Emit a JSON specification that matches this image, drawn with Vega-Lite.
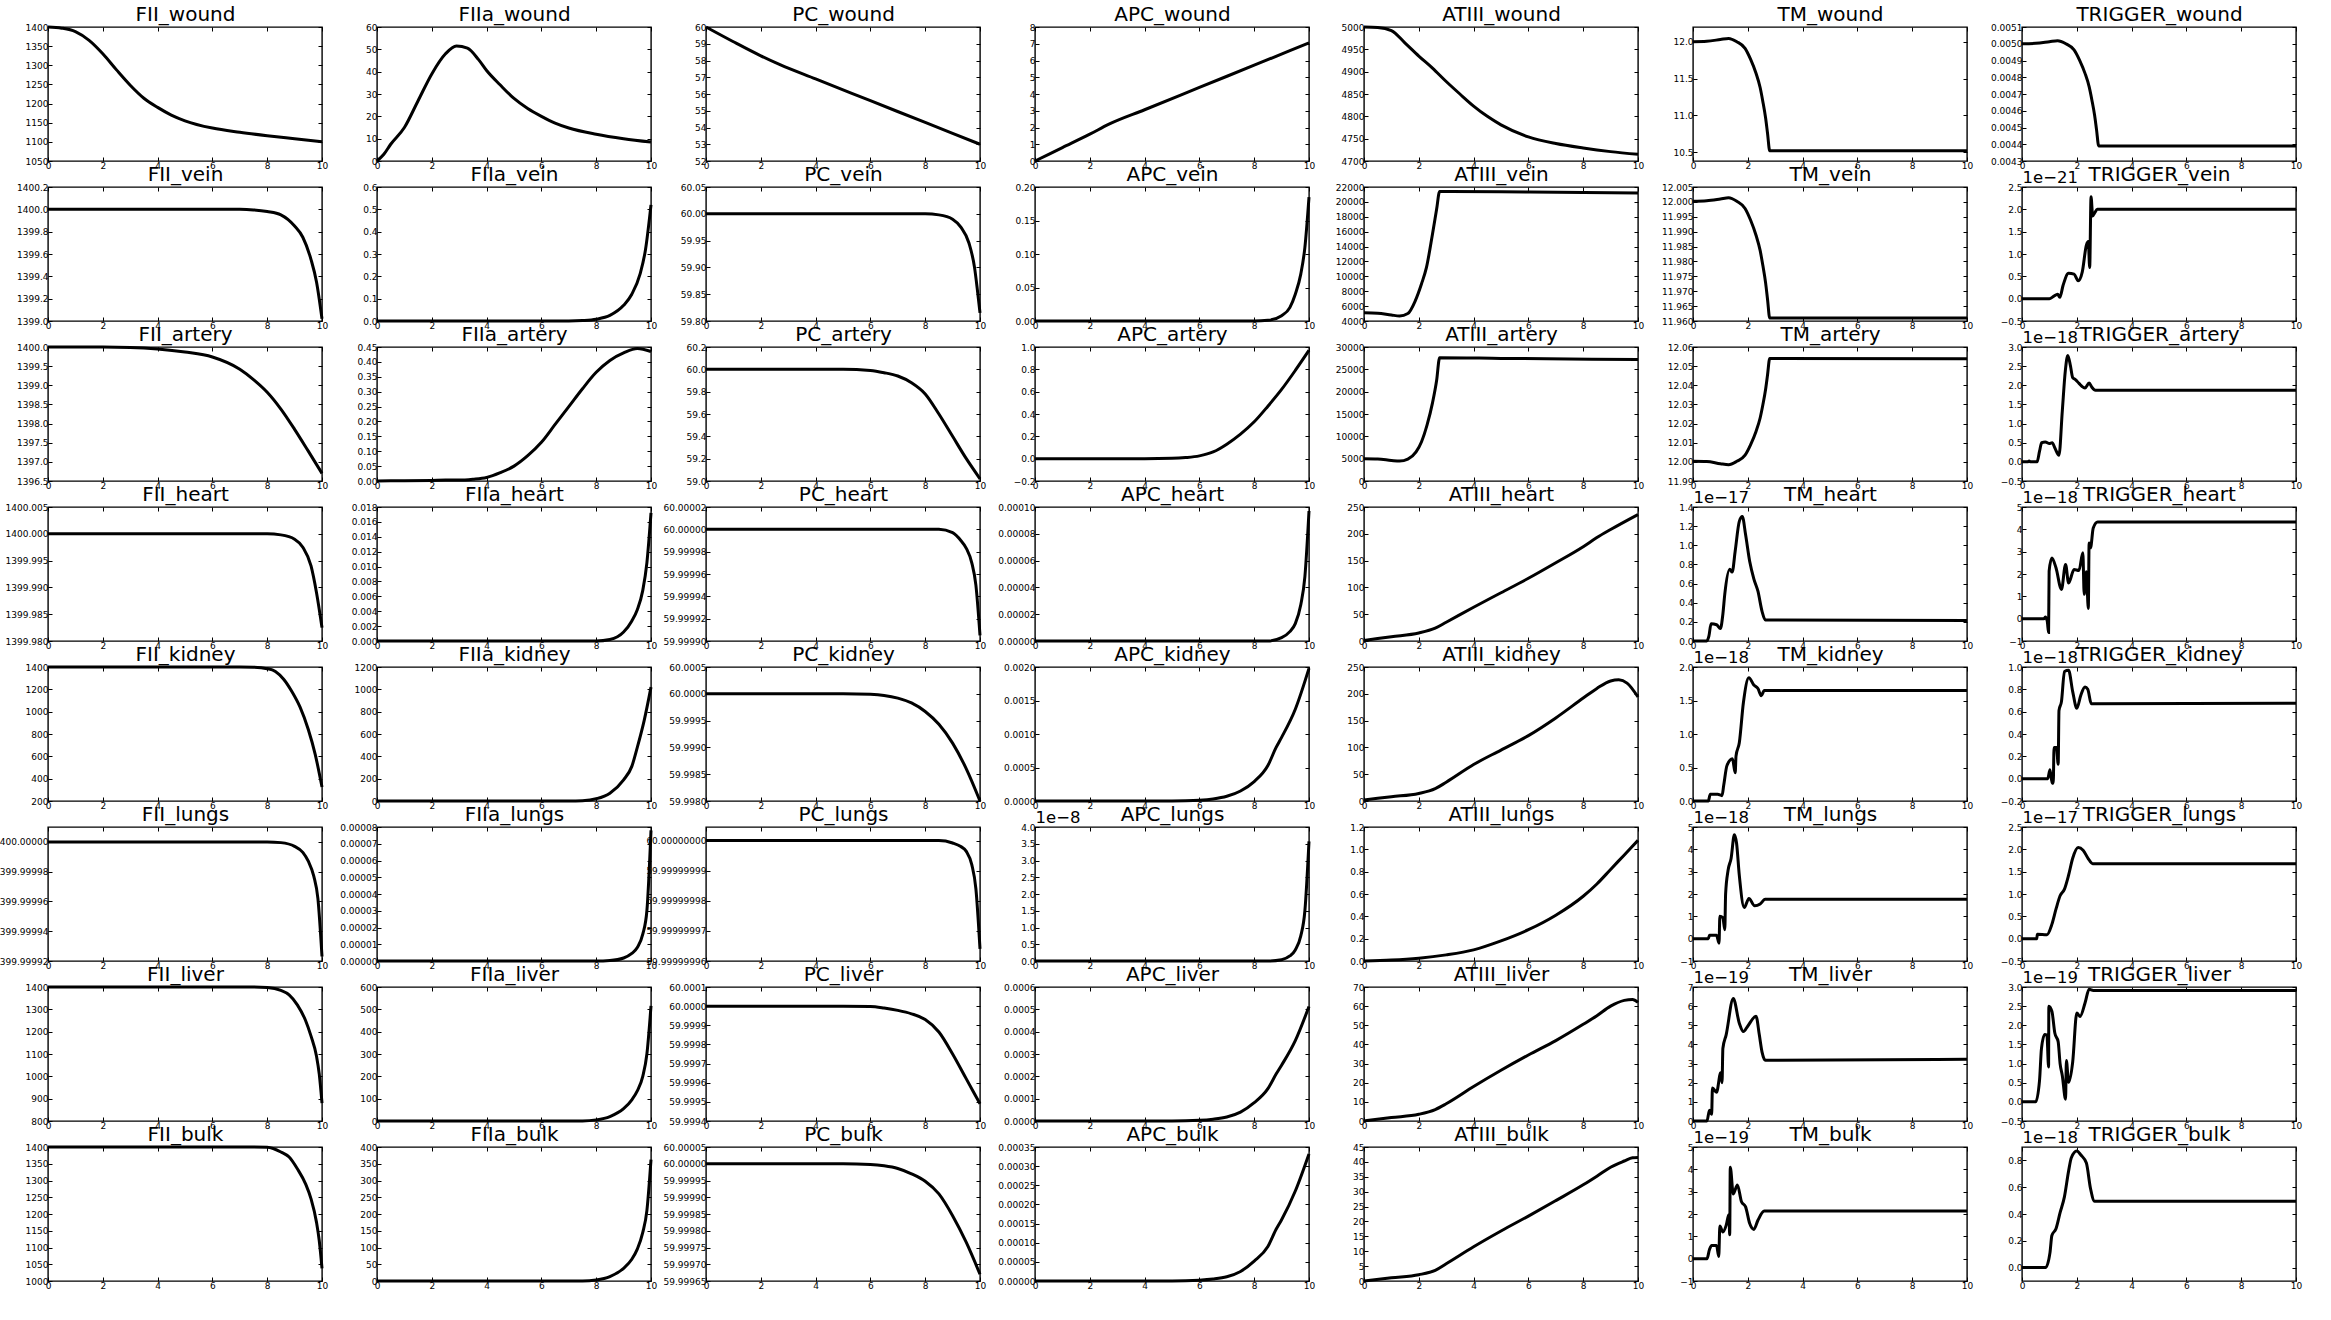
{
"$schema":"https://vega.github.io/schema/vega-lite/v6.json",
"background":"white",
"padding":{"left":-8,"top":3,"right":5,"bottom":5},
"columns":7,
"spacing":{"row":26,"column":55},
"bounds":"flush",
"concat":[
{"width":274,"height":134,"data":{"values":[{"t":0,"v":1400},{"t":0.5,"v":1397},{"t":1,"v":1388},{"t":1.5,"v":1365},{"t":2,"v":1330},{"t":2.5,"v":1288},{"t":3,"v":1248},{"t":3.5,"v":1214},{"t":4,"v":1190},{"t":4.5,"v":1170},{"t":5,"v":1155},{"t":6,"v":1136},{"t":7,"v":1125},{"t":8,"v":1116},{"t":9,"v":1108},{"t":10,"v":1100}]},
"layer":[{"mark":"line","encoding":{"x":{"field":"t","type":"quantitative","scale":{"domain":[0,10],"nice":false},"axis":{"values":[0,2,4,6,8,10],"format":"d","title":null}},"y":{"field":"v","type":"quantitative","scale":{"domain":[1050,1400],"nice":false,"zero":false},"axis":{"values":[1050,1100,1150,1200,1250,1300,1350,1400],"format":"d","title":null}}}},
{"mark":{"type":"line","opacity":0},"encoding":{"x":{"field":"t","type":"quantitative","axis":{"orient":"top","labels":false,"values":[0,2,4,6,8,10],"title":"FII_wound","titleX":137,"titleY":-7,"titleBaseline":"alphabetic","titleAlign":"center"}},"y":{"field":"v","type":"quantitative","axis":{"orient":"right","labels":false,"values":[1050,1100,1150,1200,1250,1300,1350,1400],"title":null}}}}],
"resolve":{"axis":{"x":"independent","y":"independent"}}},

{"width":274,"height":134,"data":{"values":[{"t":0,"v":0},{"t":0.25,"v":3},{"t":0.5,"v":7.5},{"t":1,"v":15},{"t":1.5,"v":27},{"t":2,"v":39},{"t":2.5,"v":48},{"t":2.9,"v":51.5},{"t":3.3,"v":50.5},{"t":3.7,"v":45.5},{"t":4,"v":40.5},{"t":4.5,"v":34},{"t":5,"v":28},{"t":5.5,"v":23.5},{"t":6,"v":20},{"t":6.5,"v":17},{"t":7,"v":14.8},{"t":8,"v":12},{"t":9,"v":10},{"t":10,"v":8.5}]},
"layer":[{"mark":"line","encoding":{"x":{"field":"t","type":"quantitative","scale":{"domain":[0,10],"nice":false},"axis":{"values":[0,2,4,6,8,10],"format":"d","title":null}},"y":{"field":"v","type":"quantitative","scale":{"domain":[0,60],"nice":false,"zero":false},"axis":{"values":[0,10,20,30,40,50,60],"format":"d","title":null}}}},
{"mark":{"type":"line","opacity":0},"encoding":{"x":{"field":"t","type":"quantitative","axis":{"orient":"top","labels":false,"values":[0,2,4,6,8,10],"title":"FIIa_wound","titleX":137,"titleY":-7,"titleBaseline":"alphabetic","titleAlign":"center"}},"y":{"field":"v","type":"quantitative","axis":{"orient":"right","labels":false,"values":[0,10,20,30,40,50,60],"title":null}}}}],
"resolve":{"axis":{"x":"independent","y":"independent"}}},

{"width":274,"height":134,"data":{"values":[{"t":0,"v":60},{"t":1,"v":59.12},{"t":2,"v":58.28},{"t":2.7,"v":57.75},{"t":4,"v":56.9},{"t":6,"v":55.6},{"t":8,"v":54.3},{"t":10,"v":53.0}]},
"layer":[{"mark":"line","encoding":{"x":{"field":"t","type":"quantitative","scale":{"domain":[0,10],"nice":false},"axis":{"values":[0,2,4,6,8,10],"format":"d","title":null}},"y":{"field":"v","type":"quantitative","scale":{"domain":[52,60],"nice":false,"zero":false},"axis":{"values":[52,53,54,55,56,57,58,59,60],"format":"d","title":null}}}},
{"mark":{"type":"line","opacity":0},"encoding":{"x":{"field":"t","type":"quantitative","axis":{"orient":"top","labels":false,"values":[0,2,4,6,8,10],"title":"PC_wound","titleX":137,"titleY":-7,"titleBaseline":"alphabetic","titleAlign":"center"}},"y":{"field":"v","type":"quantitative","axis":{"orient":"right","labels":false,"values":[52,53,54,55,56,57,58,59,60],"title":null}}}}],
"resolve":{"axis":{"x":"independent","y":"independent"}}},

{"width":274,"height":134,"data":{"values":[{"t":0,"v":0},{"t":1,"v":0.8},{"t":2,"v":1.6},{"t":2.7,"v":2.2},{"t":4,"v":3.06},{"t":6,"v":4.39},{"t":8,"v":5.72},{"t":10,"v":7.05}]},
"layer":[{"mark":"line","encoding":{"x":{"field":"t","type":"quantitative","scale":{"domain":[0,10],"nice":false},"axis":{"values":[0,2,4,6,8,10],"format":"d","title":null}},"y":{"field":"v","type":"quantitative","scale":{"domain":[0,8],"nice":false,"zero":false},"axis":{"values":[0,1,2,3,4,5,6,7,8],"format":"d","title":null}}}},
{"mark":{"type":"line","opacity":0},"encoding":{"x":{"field":"t","type":"quantitative","axis":{"orient":"top","labels":false,"values":[0,2,4,6,8,10],"title":"APC_wound","titleX":137,"titleY":-7,"titleBaseline":"alphabetic","titleAlign":"center"}},"y":{"field":"v","type":"quantitative","axis":{"orient":"right","labels":false,"values":[0,1,2,3,4,5,6,7,8],"title":null}}}}],
"resolve":{"axis":{"x":"independent","y":"independent"}}},

{"width":274,"height":134,"data":{"values":[{"t":0,"v":5000},{"t":0.5,"v":4999},{"t":1,"v":4992},{"t":1.5,"v":4964},{"t":2,"v":4935},{"t":2.5,"v":4908},{"t":3,"v":4878},{"t":3.5,"v":4850},{"t":4,"v":4823},{"t":4.5,"v":4800},{"t":5,"v":4781},{"t":6,"v":4754},{"t":7,"v":4739},{"t":8,"v":4729},{"t":9,"v":4721},{"t":10,"v":4715}]},
"layer":[{"mark":"line","encoding":{"x":{"field":"t","type":"quantitative","scale":{"domain":[0,10],"nice":false},"axis":{"values":[0,2,4,6,8,10],"format":"d","title":null}},"y":{"field":"v","type":"quantitative","scale":{"domain":[4700,5000],"nice":false,"zero":false},"axis":{"values":[4700,4750,4800,4850,4900,4950,5000],"format":"d","title":null}}}},
{"mark":{"type":"line","opacity":0},"encoding":{"x":{"field":"t","type":"quantitative","axis":{"orient":"top","labels":false,"values":[0,2,4,6,8,10],"title":"ATIII_wound","titleX":137,"titleY":-7,"titleBaseline":"alphabetic","titleAlign":"center"}},"y":{"field":"v","type":"quantitative","axis":{"orient":"right","labels":false,"values":[4700,4750,4800,4850,4900,4950,5000],"title":null}}}}],
"resolve":{"axis":{"x":"independent","y":"independent"}}},

{"width":274,"height":134,"data":{"values":[{"t":0,"v":12.0},{"t":0.5,"v":12.006},{"t":1,"v":12.03},{"t":1.3,"v":12.045},{"t":1.6,"v":12.0},{"t":1.9,"v":11.91},{"t":2.1,"v":11.763},{"t":2.3,"v":11.571},{"t":2.45,"v":11.378},{"t":2.55,"v":11.186},{"t":2.65,"v":10.964},{"t":2.72,"v":10.757},{"t":2.8,"v":10.52},{"t":10,"v":10.52}]},
"layer":[{"mark":"line","encoding":{"x":{"field":"t","type":"quantitative","scale":{"domain":[0,10],"nice":false},"axis":{"values":[0,2,4,6,8,10],"format":"d","title":null}},"y":{"field":"v","type":"quantitative","scale":{"domain":[10.38,12.2],"nice":false,"zero":false},"axis":{"values":[10.5,11,11.5,12],"format":".1f","title":null}}}},
{"mark":{"type":"line","opacity":0},"encoding":{"x":{"field":"t","type":"quantitative","axis":{"orient":"top","labels":false,"values":[0,2,4,6,8,10],"title":"TM_wound","titleX":137,"titleY":-7,"titleBaseline":"alphabetic","titleAlign":"center"}},"y":{"field":"v","type":"quantitative","axis":{"orient":"right","labels":false,"values":[10.5,11,11.5,12],"title":null}}}}],
"resolve":{"axis":{"x":"independent","y":"independent"}}},

{"width":274,"height":134,"data":{"values":[{"t":0,"v":0.005},{"t":0.5,"v":0.0050025},{"t":1,"v":0.0050122},{"t":1.3,"v":0.0050183},{"t":1.6,"v":0.005},{"t":1.9,"v":0.0049634},{"t":2.1,"v":0.0049024},{"t":2.3,"v":0.0048231},{"t":2.45,"v":0.0047438},{"t":2.55,"v":0.0046645},{"t":2.65,"v":0.004573},{"t":2.72,"v":0.0044876},{"t":2.8,"v":0.00439},{"t":10,"v":0.00439}]},
"layer":[{"mark":"line","encoding":{"x":{"field":"t","type":"quantitative","scale":{"domain":[0,10],"nice":false},"axis":{"values":[0,2,4,6,8,10],"format":"d","title":null}},"y":{"field":"v","type":"quantitative","scale":{"domain":[0.0043,0.0051],"nice":false,"zero":false},"axis":{"values":[0.0043,0.0044,0.0045,0.0046,0.0047,0.0048,0.0049,0.005,0.0051],"format":".4f","title":null}}}},
{"mark":{"type":"line","opacity":0},"encoding":{"x":{"field":"t","type":"quantitative","axis":{"orient":"top","labels":false,"values":[0,2,4,6,8,10],"title":"TRIGGER_wound","titleX":137,"titleY":-7,"titleBaseline":"alphabetic","titleAlign":"center"}},"y":{"field":"v","type":"quantitative","axis":{"orient":"right","labels":false,"values":[0.0043,0.0044,0.0045,0.0046,0.0047,0.0048,0.0049,0.005,0.0051],"title":null}}}}],
"resolve":{"axis":{"x":"independent","y":"independent"}}},

{"width":274,"height":134,"data":{"values":[{"t":0,"v":1400},{"t":7,"v":1400},{"t":7.5,"v":1399.995},{"t":8,"v":1399.98},{"t":8.5,"v":1399.95},{"t":9,"v":1399.85},{"t":9.3,"v":1399.75},{"t":9.6,"v":1399.55},{"t":9.8,"v":1399.35},{"t":10,"v":1399.02}]},
"layer":[{"mark":"line","encoding":{"x":{"field":"t","type":"quantitative","scale":{"domain":[0,10],"nice":false},"axis":{"values":[0,2,4,6,8,10],"format":"d","title":null}},"y":{"field":"v","type":"quantitative","scale":{"domain":[1399,1400.2],"nice":false,"zero":false},"axis":{"values":[1399,1399.2,1399.4,1399.6,1399.8,1400,1400.2],"format":".1f","title":null}}}},
{"mark":{"type":"line","opacity":0},"encoding":{"x":{"field":"t","type":"quantitative","axis":{"orient":"top","labels":false,"values":[0,2,4,6,8,10],"title":"FII_vein","titleX":137,"titleY":-7,"titleBaseline":"alphabetic","titleAlign":"center"}},"y":{"field":"v","type":"quantitative","axis":{"orient":"right","labels":false,"values":[1399,1399.2,1399.4,1399.6,1399.8,1400,1400.2],"title":null}}}}],
"resolve":{"axis":{"x":"independent","y":"independent"}}},

{"width":274,"height":134,"data":{"values":[{"t":0,"v":0},{"t":7,"v":0},{"t":7.5,"v":0.002},{"t":8,"v":0.008},{"t":8.5,"v":0.025},{"t":9,"v":0.07},{"t":9.3,"v":0.12},{"t":9.6,"v":0.21},{"t":9.8,"v":0.32},{"t":10,"v":0.52}]},
"layer":[{"mark":"line","encoding":{"x":{"field":"t","type":"quantitative","scale":{"domain":[0,10],"nice":false},"axis":{"values":[0,2,4,6,8,10],"format":"d","title":null}},"y":{"field":"v","type":"quantitative","scale":{"domain":[0,0.6],"nice":false,"zero":false},"axis":{"values":[0,0.1,0.2,0.3,0.4,0.5,0.6],"format":".1f","title":null}}}},
{"mark":{"type":"line","opacity":0},"encoding":{"x":{"field":"t","type":"quantitative","axis":{"orient":"top","labels":false,"values":[0,2,4,6,8,10],"title":"FIIa_vein","titleX":137,"titleY":-7,"titleBaseline":"alphabetic","titleAlign":"center"}},"y":{"field":"v","type":"quantitative","axis":{"orient":"right","labels":false,"values":[0,0.1,0.2,0.3,0.4,0.5,0.6],"title":null}}}}],
"resolve":{"axis":{"x":"independent","y":"independent"}}},

{"width":274,"height":134,"data":{"values":[{"t":0,"v":60},{"t":8,"v":60},{"t":8.5,"v":59.998},{"t":9,"v":59.99},{"t":9.3,"v":59.975},{"t":9.6,"v":59.945},{"t":9.8,"v":59.9},{"t":9.9,"v":59.86},{"t":10,"v":59.815}]},
"layer":[{"mark":"line","encoding":{"x":{"field":"t","type":"quantitative","scale":{"domain":[0,10],"nice":false},"axis":{"values":[0,2,4,6,8,10],"format":"d","title":null}},"y":{"field":"v","type":"quantitative","scale":{"domain":[59.8,60.05],"nice":false,"zero":false},"axis":{"values":[59.8,59.85,59.9,59.95,60,60.05],"format":".2f","title":null}}}},
{"mark":{"type":"line","opacity":0},"encoding":{"x":{"field":"t","type":"quantitative","axis":{"orient":"top","labels":false,"values":[0,2,4,6,8,10],"title":"PC_vein","titleX":137,"titleY":-7,"titleBaseline":"alphabetic","titleAlign":"center"}},"y":{"field":"v","type":"quantitative","axis":{"orient":"right","labels":false,"values":[59.8,59.85,59.9,59.95,60,60.05],"title":null}}}}],
"resolve":{"axis":{"x":"independent","y":"independent"}}},

{"width":274,"height":134,"data":{"values":[{"t":0,"v":0},{"t":8,"v":0},{"t":8.5,"v":0.001},{"t":9,"v":0.008},{"t":9.3,"v":0.02},{"t":9.5,"v":0.04},{"t":9.7,"v":0.07},{"t":9.85,"v":0.11},{"t":10,"v":0.185}]},
"layer":[{"mark":"line","encoding":{"x":{"field":"t","type":"quantitative","scale":{"domain":[0,10],"nice":false},"axis":{"values":[0,2,4,6,8,10],"format":"d","title":null}},"y":{"field":"v","type":"quantitative","scale":{"domain":[0,0.2],"nice":false,"zero":false},"axis":{"values":[0,0.05,0.1,0.15,0.2],"format":".2f","title":null}}}},
{"mark":{"type":"line","opacity":0},"encoding":{"x":{"field":"t","type":"quantitative","axis":{"orient":"top","labels":false,"values":[0,2,4,6,8,10],"title":"APC_vein","titleX":137,"titleY":-7,"titleBaseline":"alphabetic","titleAlign":"center"}},"y":{"field":"v","type":"quantitative","axis":{"orient":"right","labels":false,"values":[0,0.05,0.1,0.15,0.2],"title":null}}}}],
"resolve":{"axis":{"x":"independent","y":"independent"}}},

{"width":274,"height":134,"data":{"values":[{"t":0,"v":5100},{"t":0.5,"v":5050},{"t":1,"v":4800},{"t":1.3,"v":4680},{"t":1.6,"v":5000},{"t":1.87,"v":6700},{"t":2.1,"v":9000},{"t":2.28,"v":11200},{"t":2.5,"v":15700},{"t":2.65,"v":19000},{"t":2.76,"v":21400},{"t":5,"v":21350},{"t":10,"v":21200}]},
"layer":[{"mark":"line","encoding":{"x":{"field":"t","type":"quantitative","scale":{"domain":[0,10],"nice":false},"axis":{"values":[0,2,4,6,8,10],"format":"d","title":null}},"y":{"field":"v","type":"quantitative","scale":{"domain":[4000,22000],"nice":false,"zero":false},"axis":{"values":[4000,6000,8000,10000,12000,14000,16000,18000,20000,22000],"format":"d","title":null}}}},
{"mark":{"type":"line","opacity":0},"encoding":{"x":{"field":"t","type":"quantitative","axis":{"orient":"top","labels":false,"values":[0,2,4,6,8,10],"title":"ATIII_vein","titleX":137,"titleY":-7,"titleBaseline":"alphabetic","titleAlign":"center"}},"y":{"field":"v","type":"quantitative","axis":{"orient":"right","labels":false,"values":[4000,6000,8000,10000,12000,14000,16000,18000,20000,22000],"title":null}}}}],
"resolve":{"axis":{"x":"independent","y":"independent"}}},

{"width":274,"height":134,"data":{"values":[{"t":0,"v":12.0002},{"t":0.5,"v":12.0004},{"t":1,"v":12.001},{"t":1.3,"v":12.0014},{"t":1.6,"v":12.0002},{"t":1.9,"v":11.9978},{"t":2.1,"v":11.9939},{"t":2.3,"v":11.9888},{"t":2.45,"v":11.9837},{"t":2.55,"v":11.9786},{"t":2.65,"v":11.9728},{"t":2.72,"v":11.9673},{"t":2.8,"v":11.961},{"t":10,"v":11.961}]},
"layer":[{"mark":"line","encoding":{"x":{"field":"t","type":"quantitative","scale":{"domain":[0,10],"nice":false},"axis":{"values":[0,2,4,6,8,10],"format":"d","title":null}},"y":{"field":"v","type":"quantitative","scale":{"domain":[11.96,12.005],"nice":false,"zero":false},"axis":{"values":[11.96,11.965,11.97,11.975,11.98,11.985,11.99,11.995,12,12.005],"format":".3f","title":null}}}},
{"mark":{"type":"line","opacity":0},"encoding":{"x":{"field":"t","type":"quantitative","axis":{"orient":"top","labels":false,"values":[0,2,4,6,8,10],"title":"TM_vein","titleX":137,"titleY":-7,"titleBaseline":"alphabetic","titleAlign":"center"}},"y":{"field":"v","type":"quantitative","axis":{"orient":"right","labels":false,"values":[11.96,11.965,11.97,11.975,11.98,11.985,11.99,11.995,12,12.005],"title":null}}}}],
"resolve":{"axis":{"x":"independent","y":"independent"}}},

{"width":274,"height":134,"data":{"values":[{"t":0,"v":0},{"t":1.0,"v":0},{"t":1.15,"v":5e-23},{"t":1.3,"v":1e-22},{"t":1.38,"v":3e-23},{"t":1.5,"v":3e-22},{"t":1.7,"v":5.7e-22},{"t":1.9,"v":5.5e-22},{"t":2.05,"v":4e-22},{"t":2.2,"v":6e-22},{"t":2.35,"v":1.2e-21},{"t":2.42,"v":1.28e-21},{"t":2.47,"v":7e-22},{"t":2.52,"v":2.28e-21},{"t":2.58,"v":1.85e-21},{"t":2.65,"v":1.92e-21},{"t":2.75,"v":2.0e-21},{"t":10,"v":2.0e-21}]},
"layer":[{"mark":"line","encoding":{"x":{"field":"t","type":"quantitative","scale":{"domain":[0,10],"nice":false},"axis":{"values":[0,2,4,6,8,10],"format":"d","title":null}},"y":{"field":"v","type":"quantitative","scale":{"domain":[-5e-22,2.5e-21],"nice":false,"zero":false},"axis":{"values":[-5e-22,0,5e-22,1e-21,1.5e-21,2e-21,2.5e-21],"labelExpr":"format(datum.value*1e21,'.1f')","title":"1e−21","titleAngle":0,"titleAlign":"left","titleBaseline":"alphabetic","titleX":0,"titleY":-5,"titleFontSize":16.5}}}},
{"mark":{"type":"line","opacity":0},"encoding":{"x":{"field":"t","type":"quantitative","axis":{"orient":"top","labels":false,"values":[0,2,4,6,8,10],"title":"TRIGGER_vein","titleX":137,"titleY":-7,"titleBaseline":"alphabetic","titleAlign":"center"}},"y":{"field":"v","type":"quantitative","axis":{"orient":"right","labels":false,"values":[-5e-22,0,5e-22,1e-21,1.5e-21,2e-21,2.5e-21],"title":null}}}}],
"resolve":{"axis":{"x":"independent","y":"independent"}}},

{"width":274,"height":134,"data":{"values":[{"t":0,"v":1400},{"t":2,"v":1400},{"t":3,"v":1399.99},{"t":4,"v":1399.95},{"t":5,"v":1399.87},{"t":6,"v":1399.74},{"t":7,"v":1399.42},{"t":7.5,"v":1399.15},{"t":8,"v":1398.82},{"t":8.5,"v":1398.38},{"t":9,"v":1397.85},{"t":9.5,"v":1397.28},{"t":10,"v":1396.7}]},
"layer":[{"mark":"line","encoding":{"x":{"field":"t","type":"quantitative","scale":{"domain":[0,10],"nice":false},"axis":{"values":[0,2,4,6,8,10],"format":"d","title":null}},"y":{"field":"v","type":"quantitative","scale":{"domain":[1396.5,1400],"nice":false,"zero":false},"axis":{"values":[1396.5,1397,1397.5,1398,1398.5,1399,1399.5,1400],"format":".1f","title":null}}}},
{"mark":{"type":"line","opacity":0},"encoding":{"x":{"field":"t","type":"quantitative","axis":{"orient":"top","labels":false,"values":[0,2,4,6,8,10],"title":"FII_artery","titleX":137,"titleY":-7,"titleBaseline":"alphabetic","titleAlign":"center"}},"y":{"field":"v","type":"quantitative","axis":{"orient":"right","labels":false,"values":[1396.5,1397,1397.5,1398,1398.5,1399,1399.5,1400],"title":null}}}}],
"resolve":{"axis":{"x":"independent","y":"independent"}}},

{"width":274,"height":134,"data":{"values":[{"t":0,"v":0},{"t":1,"v":0.001},{"t":2,"v":0.002},{"t":2.5,"v":0.003},{"t":3,"v":0.003},{"t":3.5,"v":0.006},{"t":4,"v":0.012},{"t":4.5,"v":0.028},{"t":5,"v":0.05},{"t":5.5,"v":0.085},{"t":6,"v":0.13},{"t":6.5,"v":0.19},{"t":7,"v":0.25},{"t":7.5,"v":0.31},{"t":8,"v":0.365},{"t":8.5,"v":0.405},{"t":9,"v":0.43},{"t":9.5,"v":0.445},{"t":10,"v":0.435}]},
"layer":[{"mark":"line","encoding":{"x":{"field":"t","type":"quantitative","scale":{"domain":[0,10],"nice":false},"axis":{"values":[0,2,4,6,8,10],"format":"d","title":null}},"y":{"field":"v","type":"quantitative","scale":{"domain":[0,0.45],"nice":false,"zero":false},"axis":{"values":[0,0.05,0.1,0.15,0.2,0.25,0.3,0.35,0.4,0.45],"format":".2f","title":null}}}},
{"mark":{"type":"line","opacity":0},"encoding":{"x":{"field":"t","type":"quantitative","axis":{"orient":"top","labels":false,"values":[0,2,4,6,8,10],"title":"FIIa_artery","titleX":137,"titleY":-7,"titleBaseline":"alphabetic","titleAlign":"center"}},"y":{"field":"v","type":"quantitative","axis":{"orient":"right","labels":false,"values":[0,0.05,0.1,0.15,0.2,0.25,0.3,0.35,0.4,0.45],"title":null}}}}],
"resolve":{"axis":{"x":"independent","y":"independent"}}},

{"width":274,"height":134,"data":{"values":[{"t":0,"v":60},{"t":5,"v":60},{"t":6,"v":59.99},{"t":6.5,"v":59.97},{"t":7,"v":59.94},{"t":7.5,"v":59.88},{"t":8,"v":59.78},{"t":8.5,"v":59.6},{"t":9,"v":59.4},{"t":9.5,"v":59.2},{"t":10,"v":59.02}]},
"layer":[{"mark":"line","encoding":{"x":{"field":"t","type":"quantitative","scale":{"domain":[0,10],"nice":false},"axis":{"values":[0,2,4,6,8,10],"format":"d","title":null}},"y":{"field":"v","type":"quantitative","scale":{"domain":[59,60.2],"nice":false,"zero":false},"axis":{"values":[59,59.2,59.4,59.6,59.8,60,60.2],"format":".1f","title":null}}}},
{"mark":{"type":"line","opacity":0},"encoding":{"x":{"field":"t","type":"quantitative","axis":{"orient":"top","labels":false,"values":[0,2,4,6,8,10],"title":"PC_artery","titleX":137,"titleY":-7,"titleBaseline":"alphabetic","titleAlign":"center"}},"y":{"field":"v","type":"quantitative","axis":{"orient":"right","labels":false,"values":[59,59.2,59.4,59.6,59.8,60,60.2],"title":null}}}}],
"resolve":{"axis":{"x":"independent","y":"independent"}}},

{"width":274,"height":134,"data":{"values":[{"t":0,"v":0},{"t":4,"v":0},{"t":5,"v":0.003},{"t":5.5,"v":0.01},{"t":6,"v":0.025},{"t":6.5,"v":0.06},{"t":7,"v":0.13},{"t":7.5,"v":0.22},{"t":8,"v":0.33},{"t":8.5,"v":0.47},{"t":9,"v":0.62},{"t":9.5,"v":0.79},{"t":10,"v":0.97}]},
"layer":[{"mark":"line","encoding":{"x":{"field":"t","type":"quantitative","scale":{"domain":[0,10],"nice":false},"axis":{"values":[0,2,4,6,8,10],"format":"d","title":null}},"y":{"field":"v","type":"quantitative","scale":{"domain":[-0.2,1],"nice":false,"zero":false},"axis":{"values":[-0.2,0,0.2,0.4,0.6,0.8,1],"format":".1f","title":null}}}},
{"mark":{"type":"line","opacity":0},"encoding":{"x":{"field":"t","type":"quantitative","axis":{"orient":"top","labels":false,"values":[0,2,4,6,8,10],"title":"APC_artery","titleX":137,"titleY":-7,"titleBaseline":"alphabetic","titleAlign":"center"}},"y":{"field":"v","type":"quantitative","axis":{"orient":"right","labels":false,"values":[-0.2,0,0.2,0.4,0.6,0.8,1],"title":null}}}}],
"resolve":{"axis":{"x":"independent","y":"independent"}}},

{"width":274,"height":134,"data":{"values":[{"t":0,"v":5000},{"t":0.5,"v":4950},{"t":1,"v":4600},{"t":1.3,"v":4450},{"t":1.6,"v":4900},{"t":1.9,"v":6500},{"t":2.1,"v":8800},{"t":2.3,"v":12500},{"t":2.5,"v":17500},{"t":2.65,"v":22500},{"t":2.76,"v":27600},{"t":5,"v":27450},{"t":10,"v":27200}]},
"layer":[{"mark":"line","encoding":{"x":{"field":"t","type":"quantitative","scale":{"domain":[0,10],"nice":false},"axis":{"values":[0,2,4,6,8,10],"format":"d","title":null}},"y":{"field":"v","type":"quantitative","scale":{"domain":[0,30000],"nice":false,"zero":false},"axis":{"values":[0,5000,10000,15000,20000,25000,30000],"format":"d","title":null}}}},
{"mark":{"type":"line","opacity":0},"encoding":{"x":{"field":"t","type":"quantitative","axis":{"orient":"top","labels":false,"values":[0,2,4,6,8,10],"title":"ATIII_artery","titleX":137,"titleY":-7,"titleBaseline":"alphabetic","titleAlign":"center"}},"y":{"field":"v","type":"quantitative","axis":{"orient":"right","labels":false,"values":[0,5000,10000,15000,20000,25000,30000],"title":null}}}}],
"resolve":{"axis":{"x":"independent","y":"independent"}}},

{"width":274,"height":134,"data":{"values":[{"t":0,"v":12.0003},{"t":0.5,"v":12.0002},{"t":1,"v":11.999},{"t":1.3,"v":11.9985},{"t":1.6,"v":12.0003},{"t":1.9,"v":12.0035},{"t":2.1,"v":12.0089},{"t":2.3,"v":12.0159},{"t":2.45,"v":12.0229},{"t":2.55,"v":12.0298},{"t":2.65,"v":12.0379},{"t":2.72,"v":12.0454},{"t":2.8,"v":12.054},{"t":10,"v":12.0538}]},
"layer":[{"mark":"line","encoding":{"x":{"field":"t","type":"quantitative","scale":{"domain":[0,10],"nice":false},"axis":{"values":[0,2,4,6,8,10],"format":"d","title":null}},"y":{"field":"v","type":"quantitative","scale":{"domain":[11.99,12.06],"nice":false,"zero":false},"axis":{"values":[11.99,12,12.01,12.02,12.03,12.04,12.05,12.06],"format":".2f","title":null}}}},
{"mark":{"type":"line","opacity":0},"encoding":{"x":{"field":"t","type":"quantitative","axis":{"orient":"top","labels":false,"values":[0,2,4,6,8,10],"title":"TM_artery","titleX":137,"titleY":-7,"titleBaseline":"alphabetic","titleAlign":"center"}},"y":{"field":"v","type":"quantitative","axis":{"orient":"right","labels":false,"values":[11.99,12,12.01,12.02,12.03,12.04,12.05,12.06],"title":null}}}}],
"resolve":{"axis":{"x":"independent","y":"independent"}}},

{"width":274,"height":134,"data":{"values":[{"t":0,"v":0},{"t":0.2,"v":0},{"t":0.26,"v":2e-20},{"t":0.32,"v":0},{"t":0.55,"v":0},{"t":0.64,"v":2.8e-19},{"t":0.72,"v":5e-19},{"t":0.85,"v":5.2e-19},{"t":1.0,"v":4.8e-19},{"t":1.1,"v":5e-19},{"t":1.2,"v":3.6e-19},{"t":1.35,"v":1.7e-19},{"t":1.47,"v":1.32e-18},{"t":1.58,"v":2.37e-18},{"t":1.67,"v":2.78e-18},{"t":1.77,"v":2.5e-18},{"t":1.85,"v":2.2e-18},{"t":1.95,"v":2.15e-18},{"t":2.08,"v":2.05e-18},{"t":2.3,"v":1.93e-18},{"t":2.45,"v":2.06e-18},{"t":2.55,"v":1.95e-18},{"t":2.68,"v":1.87e-18},{"t":10,"v":1.87e-18}]},
"layer":[{"mark":"line","encoding":{"x":{"field":"t","type":"quantitative","scale":{"domain":[0,10],"nice":false},"axis":{"values":[0,2,4,6,8,10],"format":"d","title":null}},"y":{"field":"v","type":"quantitative","scale":{"domain":[-5e-19,3e-18],"nice":false,"zero":false},"axis":{"values":[-5e-19,0,5e-19,1e-18,1.5e-18,2e-18,2.5e-18,3e-18],"labelExpr":"format(datum.value*1e18,'.1f')","title":"1e−18","titleAngle":0,"titleAlign":"left","titleBaseline":"alphabetic","titleX":0,"titleY":-5,"titleFontSize":16.5}}}},
{"mark":{"type":"line","opacity":0},"encoding":{"x":{"field":"t","type":"quantitative","axis":{"orient":"top","labels":false,"values":[0,2,4,6,8,10],"title":"TRIGGER_artery","titleX":137,"titleY":-7,"titleBaseline":"alphabetic","titleAlign":"center"}},"y":{"field":"v","type":"quantitative","axis":{"orient":"right","labels":false,"values":[-5e-19,0,5e-19,1e-18,1.5e-18,2e-18,2.5e-18,3e-18],"title":null}}}}],
"resolve":{"axis":{"x":"independent","y":"independent"}}},

{"width":274,"height":134,"data":{"values":[{"t":0,"v":1400},{"t":8,"v":1400},{"t":8.5,"v":1399.9998},{"t":9,"v":1399.999},{"t":9.3,"v":1399.9975},{"t":9.6,"v":1399.994},{"t":9.8,"v":1399.989},{"t":10,"v":1399.9825}]},
"layer":[{"mark":"line","encoding":{"x":{"field":"t","type":"quantitative","scale":{"domain":[0,10],"nice":false},"axis":{"values":[0,2,4,6,8,10],"format":"d","title":null}},"y":{"field":"v","type":"quantitative","scale":{"domain":[1399.98,1400.005],"nice":false,"zero":false},"axis":{"values":[1399.98,1399.985,1399.99,1399.995,1400,1400.005],"format":".3f","title":null}}}},
{"mark":{"type":"line","opacity":0},"encoding":{"x":{"field":"t","type":"quantitative","axis":{"orient":"top","labels":false,"values":[0,2,4,6,8,10],"title":"FII_heart","titleX":137,"titleY":-7,"titleBaseline":"alphabetic","titleAlign":"center"}},"y":{"field":"v","type":"quantitative","axis":{"orient":"right","labels":false,"values":[1399.98,1399.985,1399.99,1399.995,1400,1400.005],"title":null}}}}],
"resolve":{"axis":{"x":"independent","y":"independent"}}},

{"width":274,"height":134,"data":{"values":[{"t":0,"v":0},{"t":8,"v":0},{"t":8.5,"v":0.0002},{"t":9,"v":0.0012},{"t":9.3,"v":0.0027},{"t":9.5,"v":0.0042},{"t":9.7,"v":0.0068},{"t":9.85,"v":0.0105},{"t":10,"v":0.0172}]},
"layer":[{"mark":"line","encoding":{"x":{"field":"t","type":"quantitative","scale":{"domain":[0,10],"nice":false},"axis":{"values":[0,2,4,6,8,10],"format":"d","title":null}},"y":{"field":"v","type":"quantitative","scale":{"domain":[0,0.018],"nice":false,"zero":false},"axis":{"values":[0,0.002,0.004,0.006,0.008,0.01,0.012,0.014,0.016,0.018],"format":".3f","title":null}}}},
{"mark":{"type":"line","opacity":0},"encoding":{"x":{"field":"t","type":"quantitative","axis":{"orient":"top","labels":false,"values":[0,2,4,6,8,10],"title":"FIIa_heart","titleX":137,"titleY":-7,"titleBaseline":"alphabetic","titleAlign":"center"}},"y":{"field":"v","type":"quantitative","axis":{"orient":"right","labels":false,"values":[0,0.002,0.004,0.006,0.008,0.01,0.012,0.014,0.016,0.018],"title":null}}}}],
"resolve":{"axis":{"x":"independent","y":"independent"}}},

{"width":274,"height":134,"data":{"values":[{"t":0,"v":60},{"t":8.5,"v":60},{"t":9,"v":59.999997},{"t":9.3,"v":59.99999},{"t":9.5,"v":59.999983},{"t":9.7,"v":59.99997},{"t":9.85,"v":59.99995},{"t":10,"v":59.999905}]},
"layer":[{"mark":"line","encoding":{"x":{"field":"t","type":"quantitative","scale":{"domain":[0,10],"nice":false},"axis":{"values":[0,2,4,6,8,10],"format":"d","title":null}},"y":{"field":"v","type":"quantitative","scale":{"domain":[59.9999,60.00002],"nice":false,"zero":false},"axis":{"values":[59.9999,59.99992,59.99994,59.99996,59.99998,60,60.00002],"format":".5f","title":null}}}},
{"mark":{"type":"line","opacity":0},"encoding":{"x":{"field":"t","type":"quantitative","axis":{"orient":"top","labels":false,"values":[0,2,4,6,8,10],"title":"PC_heart","titleX":137,"titleY":-7,"titleBaseline":"alphabetic","titleAlign":"center"}},"y":{"field":"v","type":"quantitative","axis":{"orient":"right","labels":false,"values":[59.9999,59.99992,59.99994,59.99996,59.99998,60,60.00002],"title":null}}}}],
"resolve":{"axis":{"x":"independent","y":"independent"}}},

{"width":274,"height":134,"data":{"values":[{"t":0,"v":0},{"t":8.5,"v":0},{"t":9,"v":0.0000025},{"t":9.3,"v":0.000007},{"t":9.5,"v":0.000013},{"t":9.7,"v":0.000027},{"t":9.85,"v":0.000048},{"t":10,"v":0.000097}]},
"layer":[{"mark":"line","encoding":{"x":{"field":"t","type":"quantitative","scale":{"domain":[0,10],"nice":false},"axis":{"values":[0,2,4,6,8,10],"format":"d","title":null}},"y":{"field":"v","type":"quantitative","scale":{"domain":[0,0.0001],"nice":false,"zero":false},"axis":{"values":[0,0.00002,0.00004,0.00006,0.00008,0.0001],"format":".5f","title":null}}}},
{"mark":{"type":"line","opacity":0},"encoding":{"x":{"field":"t","type":"quantitative","axis":{"orient":"top","labels":false,"values":[0,2,4,6,8,10],"title":"APC_heart","titleX":137,"titleY":-7,"titleBaseline":"alphabetic","titleAlign":"center"}},"y":{"field":"v","type":"quantitative","axis":{"orient":"right","labels":false,"values":[0,0.00002,0.00004,0.00006,0.00008,0.0001],"title":null}}}}],
"resolve":{"axis":{"x":"independent","y":"independent"}}},

{"width":274,"height":134,"data":{"values":[{"t":0,"v":1},{"t":1,"v":8},{"t":2,"v":15},{"t":2.6,"v":24},{"t":3,"v":35},{"t":4,"v":63},{"t":5,"v":90},{"t":6,"v":117},{"t":7,"v":146},{"t":8,"v":176},{"t":8.5,"v":193},{"t":9,"v":208},{"t":10,"v":236}]},
"layer":[{"mark":"line","encoding":{"x":{"field":"t","type":"quantitative","scale":{"domain":[0,10],"nice":false},"axis":{"values":[0,2,4,6,8,10],"format":"d","title":null}},"y":{"field":"v","type":"quantitative","scale":{"domain":[0,250],"nice":false,"zero":false},"axis":{"values":[0,50,100,150,200,250],"format":"d","title":null}}}},
{"mark":{"type":"line","opacity":0},"encoding":{"x":{"field":"t","type":"quantitative","axis":{"orient":"top","labels":false,"values":[0,2,4,6,8,10],"title":"ATIII_heart","titleX":137,"titleY":-7,"titleBaseline":"alphabetic","titleAlign":"center"}},"y":{"field":"v","type":"quantitative","axis":{"orient":"right","labels":false,"values":[0,50,100,150,200,250],"title":null}}}}],
"resolve":{"axis":{"x":"independent","y":"independent"}}},

{"width":274,"height":134,"data":{"values":[{"t":0,"v":0},{"t":0.5,"v":0},{"t":0.58,"v":5e-19},{"t":0.66,"v":1.8e-18},{"t":0.86,"v":1.7e-18},{"t":1.0,"v":1.3e-18},{"t":1.09,"v":2.8e-18},{"t":1.16,"v":4.9e-18},{"t":1.34,"v":7.5e-18},{"t":1.43,"v":7.2e-18},{"t":1.54,"v":9.4e-18},{"t":1.69,"v":1.25e-17},{"t":1.8,"v":1.3e-17},{"t":1.92,"v":1.11e-17},{"t":2.07,"v":8.3e-18},{"t":2.22,"v":6.5e-18},{"t":2.37,"v":5.2e-18},{"t":2.52,"v":3.1e-18},{"t":2.64,"v":2.2e-18},{"t":10,"v":2.15e-18}]},
"layer":[{"mark":"line","encoding":{"x":{"field":"t","type":"quantitative","scale":{"domain":[0,10],"nice":false},"axis":{"values":[0,2,4,6,8,10],"format":"d","title":null}},"y":{"field":"v","type":"quantitative","scale":{"domain":[0,1.4e-17],"nice":false,"zero":false},"axis":{"values":[0,2e-18,4e-18,6e-18,8e-18,1e-17,1.2e-17,1.4e-17],"labelExpr":"format(datum.value*1e17,'.1f')","title":"1e−17","titleAngle":0,"titleAlign":"left","titleBaseline":"alphabetic","titleX":0,"titleY":-5,"titleFontSize":16.5}}}},
{"mark":{"type":"line","opacity":0},"encoding":{"x":{"field":"t","type":"quantitative","axis":{"orient":"top","labels":false,"values":[0,2,4,6,8,10],"title":"TM_heart","titleX":137,"titleY":-7,"titleBaseline":"alphabetic","titleAlign":"center"}},"y":{"field":"v","type":"quantitative","axis":{"orient":"right","labels":false,"values":[0,2e-18,4e-18,6e-18,8e-18,1e-17,1.2e-17,1.4e-17],"title":null}}}}],
"resolve":{"axis":{"x":"independent","y":"independent"}}},

{"width":274,"height":134,"data":{"values":[{"t":0,"v":0},{"t":0.8,"v":0},{"t":0.85,"v":7e-20},{"t":0.92,"v":-1e-19},{"t":0.97,"v":-6.2e-19},{"t":0.99,"v":2.13e-18},{"t":1.09,"v":2.72e-18},{"t":1.24,"v":2.28e-18},{"t":1.44,"v":1.31e-18},{"t":1.59,"v":2.43e-18},{"t":1.7,"v":1.6e-18},{"t":1.9,"v":2.2e-18},{"t":2.08,"v":2.16e-18},{"t":2.22,"v":2.95e-18},{"t":2.27,"v":1.09e-18},{"t":2.35,"v":2.1e-18},{"t":2.42,"v":4.6e-19},{"t":2.45,"v":3.39e-18},{"t":2.5,"v":3.17e-18},{"t":2.6,"v":4.06e-18},{"t":2.76,"v":4.33e-18},{"t":10,"v":4.33e-18}]},
"layer":[{"mark":"line","encoding":{"x":{"field":"t","type":"quantitative","scale":{"domain":[0,10],"nice":false},"axis":{"values":[0,2,4,6,8,10],"format":"d","title":null}},"y":{"field":"v","type":"quantitative","scale":{"domain":[-1e-18,5e-18],"nice":false,"zero":false},"axis":{"values":[-1e-18,0,1e-18,2e-18,3e-18,4e-18,5e-18],"labelExpr":"format(datum.value*1e18,'.0f')","title":"1e−18","titleAngle":0,"titleAlign":"left","titleBaseline":"alphabetic","titleX":0,"titleY":-5,"titleFontSize":16.5}}}},
{"mark":{"type":"line","opacity":0},"encoding":{"x":{"field":"t","type":"quantitative","axis":{"orient":"top","labels":false,"values":[0,2,4,6,8,10],"title":"TRIGGER_heart","titleX":137,"titleY":-7,"titleBaseline":"alphabetic","titleAlign":"center"}},"y":{"field":"v","type":"quantitative","axis":{"orient":"right","labels":false,"values":[-1e-18,0,1e-18,2e-18,3e-18,4e-18,5e-18],"title":null}}}}],
"resolve":{"axis":{"x":"independent","y":"independent"}}},

{"width":274,"height":134,"data":{"values":[{"t":0,"v":1400},{"t":7,"v":1400},{"t":7.5,"v":1398},{"t":8,"v":1385},{"t":8.3,"v":1360},{"t":8.6,"v":1290},{"t":8.9,"v":1180},{"t":9.2,"v":1040},{"t":9.5,"v":840},{"t":9.75,"v":620},{"t":10,"v":325}]},
"layer":[{"mark":"line","encoding":{"x":{"field":"t","type":"quantitative","scale":{"domain":[0,10],"nice":false},"axis":{"values":[0,2,4,6,8,10],"format":"d","title":null}},"y":{"field":"v","type":"quantitative","scale":{"domain":[200,1400],"nice":false,"zero":false},"axis":{"values":[200,400,600,800,1000,1200,1400],"format":"d","title":null}}}},
{"mark":{"type":"line","opacity":0},"encoding":{"x":{"field":"t","type":"quantitative","axis":{"orient":"top","labels":false,"values":[0,2,4,6,8,10],"title":"FII_kidney","titleX":137,"titleY":-7,"titleBaseline":"alphabetic","titleAlign":"center"}},"y":{"field":"v","type":"quantitative","axis":{"orient":"right","labels":false,"values":[200,400,600,800,1000,1200,1400],"title":null}}}}],
"resolve":{"axis":{"x":"independent","y":"independent"}}},

{"width":274,"height":134,"data":{"values":[{"t":0,"v":0},{"t":7,"v":0},{"t":7.5,"v":3},{"t":8,"v":20},{"t":8.5,"v":70},{"t":9,"v":190},{"t":9.3,"v":310},{"t":9.5,"v":480},{"t":9.75,"v":720},{"t":10,"v":1020}]},
"layer":[{"mark":"line","encoding":{"x":{"field":"t","type":"quantitative","scale":{"domain":[0,10],"nice":false},"axis":{"values":[0,2,4,6,8,10],"format":"d","title":null}},"y":{"field":"v","type":"quantitative","scale":{"domain":[0,1200],"nice":false,"zero":false},"axis":{"values":[0,200,400,600,800,1000,1200],"format":"d","title":null}}}},
{"mark":{"type":"line","opacity":0},"encoding":{"x":{"field":"t","type":"quantitative","axis":{"orient":"top","labels":false,"values":[0,2,4,6,8,10],"title":"FIIa_kidney","titleX":137,"titleY":-7,"titleBaseline":"alphabetic","titleAlign":"center"}},"y":{"field":"v","type":"quantitative","axis":{"orient":"right","labels":false,"values":[0,200,400,600,800,1000,1200],"title":null}}}}],
"resolve":{"axis":{"x":"independent","y":"independent"}}},

{"width":274,"height":134,"data":{"values":[{"t":0,"v":60},{"t":5,"v":60},{"t":6,"v":59.99999},{"t":6.5,"v":59.99997},{"t":7,"v":59.99992},{"t":7.5,"v":59.99983},{"t":8,"v":59.99967},{"t":8.5,"v":59.99943},{"t":9,"v":59.99908},{"t":9.5,"v":59.9986},{"t":10,"v":59.998}]},
"layer":[{"mark":"line","encoding":{"x":{"field":"t","type":"quantitative","scale":{"domain":[0,10],"nice":false},"axis":{"values":[0,2,4,6,8,10],"format":"d","title":null}},"y":{"field":"v","type":"quantitative","scale":{"domain":[59.998,60.0005],"nice":false,"zero":false},"axis":{"values":[59.998,59.9985,59.999,59.9995,60,60.0005],"format":".4f","title":null}}}},
{"mark":{"type":"line","opacity":0},"encoding":{"x":{"field":"t","type":"quantitative","axis":{"orient":"top","labels":false,"values":[0,2,4,6,8,10],"title":"PC_kidney","titleX":137,"titleY":-7,"titleBaseline":"alphabetic","titleAlign":"center"}},"y":{"field":"v","type":"quantitative","axis":{"orient":"right","labels":false,"values":[59.998,59.9985,59.999,59.9995,60,60.0005],"title":null}}}}],
"resolve":{"axis":{"x":"independent","y":"independent"}}},

{"width":274,"height":134,"data":{"values":[{"t":0,"v":0},{"t":5,"v":0},{"t":5.5,"v":0.000002},{"t":6,"v":0.00001},{"t":6.5,"v":0.00003},{"t":7,"v":0.00007},{"t":7.5,"v":0.00015},{"t":8,"v":0.00029},{"t":8.5,"v":0.00053},{"t":8.8,"v":0.0008},{"t":9,"v":0.00095},{"t":9.5,"v":0.00137},{"t":10,"v":0.00198}]},
"layer":[{"mark":"line","encoding":{"x":{"field":"t","type":"quantitative","scale":{"domain":[0,10],"nice":false},"axis":{"values":[0,2,4,6,8,10],"format":"d","title":null}},"y":{"field":"v","type":"quantitative","scale":{"domain":[0,0.002],"nice":false,"zero":false},"axis":{"values":[0,0.0005,0.001,0.0015,0.002],"format":".4f","title":null}}}},
{"mark":{"type":"line","opacity":0},"encoding":{"x":{"field":"t","type":"quantitative","axis":{"orient":"top","labels":false,"values":[0,2,4,6,8,10],"title":"APC_kidney","titleX":137,"titleY":-7,"titleBaseline":"alphabetic","titleAlign":"center"}},"y":{"field":"v","type":"quantitative","axis":{"orient":"right","labels":false,"values":[0,0.0005,0.001,0.0015,0.002],"title":null}}}}],
"resolve":{"axis":{"x":"independent","y":"independent"}}},

{"width":274,"height":134,"data":{"values":[{"t":0,"v":2},{"t":1,"v":8},{"t":2,"v":14},{"t":2.6,"v":23},{"t":3,"v":35},{"t":4,"v":68},{"t":5,"v":95},{"t":6,"v":122},{"t":7,"v":155},{"t":8,"v":192},{"t":8.5,"v":210},{"t":9,"v":224},{"t":9.3,"v":226},{"t":9.6,"v":220},{"t":10,"v":194}]},
"layer":[{"mark":"line","encoding":{"x":{"field":"t","type":"quantitative","scale":{"domain":[0,10],"nice":false},"axis":{"values":[0,2,4,6,8,10],"format":"d","title":null}},"y":{"field":"v","type":"quantitative","scale":{"domain":[0,250],"nice":false,"zero":false},"axis":{"values":[0,50,100,150,200,250],"format":"d","title":null}}}},
{"mark":{"type":"line","opacity":0},"encoding":{"x":{"field":"t","type":"quantitative","axis":{"orient":"top","labels":false,"values":[0,2,4,6,8,10],"title":"ATIII_kidney","titleX":137,"titleY":-7,"titleBaseline":"alphabetic","titleAlign":"center"}},"y":{"field":"v","type":"quantitative","axis":{"orient":"right","labels":false,"values":[0,50,100,150,200,250],"title":null}}}}],
"resolve":{"axis":{"x":"independent","y":"independent"}}},

{"width":274,"height":134,"data":{"values":[{"t":0,"v":0},{"t":0.56,"v":0},{"t":0.63,"v":1e-19},{"t":0.9,"v":1e-19},{"t":1.06,"v":8e-20},{"t":1.12,"v":2.3e-19},{"t":1.24,"v":5.3e-19},{"t":1.44,"v":6.3e-19},{"t":1.54,"v":4.2e-19},{"t":1.57,"v":6.7e-19},{"t":1.69,"v":8.7e-19},{"t":1.84,"v":1.47e-18},{"t":2.04,"v":1.84e-18},{"t":2.22,"v":1.73e-18},{"t":2.37,"v":1.68e-18},{"t":2.49,"v":1.57e-18},{"t":2.6,"v":1.65e-18},{"t":10,"v":1.65e-18}]},
"layer":[{"mark":"line","encoding":{"x":{"field":"t","type":"quantitative","scale":{"domain":[0,10],"nice":false},"axis":{"values":[0,2,4,6,8,10],"format":"d","title":null}},"y":{"field":"v","type":"quantitative","scale":{"domain":[0,2e-18],"nice":false,"zero":false},"axis":{"values":[0,5e-19,1e-18,1.5e-18,2e-18],"labelExpr":"format(datum.value*1e18,'.1f')","title":"1e−18","titleAngle":0,"titleAlign":"left","titleBaseline":"alphabetic","titleX":0,"titleY":-5,"titleFontSize":16.5}}}},
{"mark":{"type":"line","opacity":0},"encoding":{"x":{"field":"t","type":"quantitative","axis":{"orient":"top","labels":false,"values":[0,2,4,6,8,10],"title":"TM_kidney","titleX":137,"titleY":-7,"titleBaseline":"alphabetic","titleAlign":"center"}},"y":{"field":"v","type":"quantitative","axis":{"orient":"right","labels":false,"values":[0,5e-19,1e-18,1.5e-18,2e-18],"title":null}}}}],
"resolve":{"axis":{"x":"independent","y":"independent"}}},

{"width":274,"height":134,"data":{"values":[{"t":0,"v":0},{"t":0.94,"v":0},{"t":1.02,"v":8e-20},{"t":1.1,"v":-4e-20},{"t":1.14,"v":-4e-20},{"t":1.17,"v":2.8e-19},{"t":1.26,"v":2.8e-19},{"t":1.32,"v":1.3e-19},{"t":1.35,"v":6.1e-19},{"t":1.44,"v":6.9e-19},{"t":1.55,"v":9.6e-19},{"t":1.7,"v":9.7e-19},{"t":1.85,"v":7.8e-19},{"t":2.0,"v":6.3e-19},{"t":2.15,"v":7.5e-19},{"t":2.3,"v":8.2e-19},{"t":2.4,"v":8e-19},{"t":2.53,"v":6.7e-19},{"t":10,"v":6.75e-19}]},
"layer":[{"mark":"line","encoding":{"x":{"field":"t","type":"quantitative","scale":{"domain":[0,10],"nice":false},"axis":{"values":[0,2,4,6,8,10],"format":"d","title":null}},"y":{"field":"v","type":"quantitative","scale":{"domain":[-2e-19,1e-18],"nice":false,"zero":false},"axis":{"values":[-2e-19,0,2e-19,4e-19,6e-19,8e-19,1e-18],"labelExpr":"format(datum.value*1e18,'.1f')","title":"1e−18","titleAngle":0,"titleAlign":"left","titleBaseline":"alphabetic","titleX":0,"titleY":-5,"titleFontSize":16.5}}}},
{"mark":{"type":"line","opacity":0},"encoding":{"x":{"field":"t","type":"quantitative","axis":{"orient":"top","labels":false,"values":[0,2,4,6,8,10],"title":"TRIGGER_kidney","titleX":137,"titleY":-7,"titleBaseline":"alphabetic","titleAlign":"center"}},"y":{"field":"v","type":"quantitative","axis":{"orient":"right","labels":false,"values":[-2e-19,0,2e-19,4e-19,6e-19,8e-19,1e-18],"title":null}}}}],
"resolve":{"axis":{"x":"independent","y":"independent"}}},

{"width":274,"height":134,"data":{"values":[{"t":0,"v":1400},{"t":8,"v":1400},{"t":8.5,"v":1399.9999995},{"t":9,"v":1399.999997},{"t":9.3,"v":1399.999993},{"t":9.5,"v":1399.999987},{"t":9.7,"v":1399.999977},{"t":9.85,"v":1399.999962},{"t":10,"v":1399.999923}]},
"layer":[{"mark":"line","encoding":{"x":{"field":"t","type":"quantitative","scale":{"domain":[0,10],"nice":false},"axis":{"values":[0,2,4,6,8,10],"format":"d","title":null}},"y":{"field":"v","type":"quantitative","scale":{"domain":[1399.99992,1400.00001],"nice":false,"zero":false},"axis":{"values":[1399.99992,1399.99994,1399.99996,1399.99998,1400],"format":".5f","title":null}}}},
{"mark":{"type":"line","opacity":0},"encoding":{"x":{"field":"t","type":"quantitative","axis":{"orient":"top","labels":false,"values":[0,2,4,6,8,10],"title":"FII_lungs","titleX":137,"titleY":-7,"titleBaseline":"alphabetic","titleAlign":"center"}},"y":{"field":"v","type":"quantitative","axis":{"orient":"right","labels":false,"values":[1399.99992,1399.99994,1399.99996,1399.99998,1400],"title":null}}}}],
"resolve":{"axis":{"x":"independent","y":"independent"}}},

{"width":274,"height":134,"data":{"values":[{"t":0,"v":0},{"t":8,"v":0},{"t":8.5,"v":3e-7},{"t":9,"v":1.8e-6},{"t":9.3,"v":4.5e-6},{"t":9.5,"v":8e-6},{"t":9.7,"v":1.6e-5},{"t":9.85,"v":3e-5},{"t":10,"v":7.8e-5}]},
"layer":[{"mark":"line","encoding":{"x":{"field":"t","type":"quantitative","scale":{"domain":[0,10],"nice":false},"axis":{"values":[0,2,4,6,8,10],"format":"d","title":null}},"y":{"field":"v","type":"quantitative","scale":{"domain":[0,0.00008],"nice":false,"zero":false},"axis":{"values":[0,0.00001,0.00002,0.00003,0.00004,0.00005,0.00006,0.00007,0.00008],"format":".5f","title":null}}}},
{"mark":{"type":"line","opacity":0},"encoding":{"x":{"field":"t","type":"quantitative","axis":{"orient":"top","labels":false,"values":[0,2,4,6,8,10],"title":"FIIa_lungs","titleX":137,"titleY":-7,"titleBaseline":"alphabetic","titleAlign":"center"}},"y":{"field":"v","type":"quantitative","axis":{"orient":"right","labels":false,"values":[0,0.00001,0.00002,0.00003,0.00004,0.00005,0.00006,0.00007,0.00008],"title":null}}}}],
"resolve":{"axis":{"x":"independent","y":"independent"}}},

{"width":274,"height":134,"data":{"values":[{"t":0,"v":60},{"t":8.5,"v":60},{"t":9,"v":59.9999999992},{"t":9.3,"v":59.999999998},{"t":9.5,"v":59.9999999964},{"t":9.7,"v":59.999999992},{"t":9.85,"v":59.999999984},{"t":10,"v":59.999999964}]},
"layer":[{"mark":"line","encoding":{"x":{"field":"t","type":"quantitative","scale":{"domain":[0,10],"nice":false},"axis":{"values":[0,2,4,6,8,10],"format":"d","title":null}},"y":{"field":"v","type":"quantitative","scale":{"domain":[59.99999996,60.0000000045],"nice":false,"zero":false},"axis":{"values":[59.99999996,59.99999997,59.99999998,59.99999999,60],"format":".8f","title":null}}}},
{"mark":{"type":"line","opacity":0},"encoding":{"x":{"field":"t","type":"quantitative","axis":{"orient":"top","labels":false,"values":[0,2,4,6,8,10],"title":"PC_lungs","titleX":137,"titleY":-7,"titleBaseline":"alphabetic","titleAlign":"center"}},"y":{"field":"v","type":"quantitative","axis":{"orient":"right","labels":false,"values":[59.99999996,59.99999997,59.99999998,59.99999999,60],"title":null}}}}],
"resolve":{"axis":{"x":"independent","y":"independent"}}},

{"width":274,"height":134,"data":{"values":[{"t":0,"v":0},{"t":8.5,"v":0},{"t":9,"v":4e-10},{"t":9.3,"v":1.5e-9},{"t":9.5,"v":3.3e-9},{"t":9.7,"v":7.5e-9},{"t":9.85,"v":1.5e-8},{"t":10,"v":3.57e-8}]},
"layer":[{"mark":"line","encoding":{"x":{"field":"t","type":"quantitative","scale":{"domain":[0,10],"nice":false},"axis":{"values":[0,2,4,6,8,10],"format":"d","title":null}},"y":{"field":"v","type":"quantitative","scale":{"domain":[0,4e-8],"nice":false,"zero":false},"axis":{"values":[0,5e-9,1e-8,1.5e-8,2e-8,2.5e-8,3e-8,3.5e-8,4e-8],"labelExpr":"format(datum.value*1e8,'.1f')","title":"1e−8","titleAngle":0,"titleAlign":"left","titleBaseline":"alphabetic","titleX":0,"titleY":-5,"titleFontSize":16.5}}}},
{"mark":{"type":"line","opacity":0},"encoding":{"x":{"field":"t","type":"quantitative","axis":{"orient":"top","labels":false,"values":[0,2,4,6,8,10],"title":"APC_lungs","titleX":137,"titleY":-7,"titleBaseline":"alphabetic","titleAlign":"center"}},"y":{"field":"v","type":"quantitative","axis":{"orient":"right","labels":false,"values":[0,5e-9,1e-8,1.5e-8,2e-8,2.5e-8,3e-8,3.5e-8,4e-8],"title":null}}}}],
"resolve":{"axis":{"x":"independent","y":"independent"}}},

{"width":274,"height":134,"data":{"values":[{"t":0,"v":0},{"t":1,"v":0.008},{"t":2,"v":0.025},{"t":3,"v":0.055},{"t":4,"v":0.1},{"t":5,"v":0.18},{"t":6,"v":0.28},{"t":7,"v":0.41},{"t":8,"v":0.58},{"t":8.5,"v":0.69},{"t":9,"v":0.82},{"t":9.5,"v":0.95},{"t":10,"v":1.08}]},
"layer":[{"mark":"line","encoding":{"x":{"field":"t","type":"quantitative","scale":{"domain":[0,10],"nice":false},"axis":{"values":[0,2,4,6,8,10],"format":"d","title":null}},"y":{"field":"v","type":"quantitative","scale":{"domain":[0,1.2],"nice":false,"zero":false},"axis":{"values":[0,0.2,0.4,0.6,0.8,1,1.2],"format":".1f","title":null}}}},
{"mark":{"type":"line","opacity":0},"encoding":{"x":{"field":"t","type":"quantitative","axis":{"orient":"top","labels":false,"values":[0,2,4,6,8,10],"title":"ATIII_lungs","titleX":137,"titleY":-7,"titleBaseline":"alphabetic","titleAlign":"center"}},"y":{"field":"v","type":"quantitative","axis":{"orient":"right","labels":false,"values":[0,0.2,0.4,0.6,0.8,1,1.2],"title":null}}}}],
"resolve":{"axis":{"x":"independent","y":"independent"}}},

{"width":274,"height":134,"data":{"values":[{"t":0,"v":0},{"t":0.56,"v":0},{"t":0.6,"v":1.5e-19},{"t":0.86,"v":1.5e-19},{"t":0.95,"v":-2e-19},{"t":0.98,"v":1e-18},{"t":1.09,"v":9.4e-19},{"t":1.16,"v":4e-19},{"t":1.19,"v":2e-18},{"t":1.28,"v":3.06e-18},{"t":1.39,"v":3.59e-18},{"t":1.51,"v":4.65e-18},{"t":1.59,"v":4.27e-18},{"t":1.69,"v":2.83e-18},{"t":1.87,"v":1.39e-18},{"t":2.04,"v":1.8e-18},{"t":2.25,"v":1.47e-18},{"t":2.45,"v":1.55e-18},{"t":2.63,"v":1.76e-18},{"t":10,"v":1.76e-18}]},
"layer":[{"mark":"line","encoding":{"x":{"field":"t","type":"quantitative","scale":{"domain":[0,10],"nice":false},"axis":{"values":[0,2,4,6,8,10],"format":"d","title":null}},"y":{"field":"v","type":"quantitative","scale":{"domain":[-1e-18,5e-18],"nice":false,"zero":false},"axis":{"values":[-1e-18,0,1e-18,2e-18,3e-18,4e-18,5e-18],"labelExpr":"format(datum.value*1e18,'.0f')","title":"1e−18","titleAngle":0,"titleAlign":"left","titleBaseline":"alphabetic","titleX":0,"titleY":-5,"titleFontSize":16.5}}}},
{"mark":{"type":"line","opacity":0},"encoding":{"x":{"field":"t","type":"quantitative","axis":{"orient":"top","labels":false,"values":[0,2,4,6,8,10],"title":"TM_lungs","titleX":137,"titleY":-7,"titleBaseline":"alphabetic","titleAlign":"center"}},"y":{"field":"v","type":"quantitative","axis":{"orient":"right","labels":false,"values":[-1e-18,0,1e-18,2e-18,3e-18,4e-18,5e-18],"title":null}}}}],
"resolve":{"axis":{"x":"independent","y":"independent"}}},

{"width":274,"height":134,"data":{"values":[{"t":0,"v":0},{"t":0.54,"v":0},{"t":0.56,"v":1e-18},{"t":0.91,"v":9e-19},{"t":1.09,"v":3.2e-18},{"t":1.24,"v":6.6e-18},{"t":1.39,"v":9.6e-18},{"t":1.55,"v":1.11e-17},{"t":1.7,"v":1.42e-17},{"t":1.85,"v":1.8e-17},{"t":2.05,"v":2.04e-17},{"t":2.23,"v":1.98e-17},{"t":2.41,"v":1.8e-17},{"t":2.58,"v":1.68e-17},{"t":10,"v":1.68e-17}]},
"layer":[{"mark":"line","encoding":{"x":{"field":"t","type":"quantitative","scale":{"domain":[0,10],"nice":false},"axis":{"values":[0,2,4,6,8,10],"format":"d","title":null}},"y":{"field":"v","type":"quantitative","scale":{"domain":[-5e-18,2.5e-17],"nice":false,"zero":false},"axis":{"values":[-5e-18,0,5e-18,1e-17,1.5e-17,2e-17,2.5e-17],"labelExpr":"format(datum.value*1e17,'.1f')","title":"1e−17","titleAngle":0,"titleAlign":"left","titleBaseline":"alphabetic","titleX":0,"titleY":-5,"titleFontSize":16.5}}}},
{"mark":{"type":"line","opacity":0},"encoding":{"x":{"field":"t","type":"quantitative","axis":{"orient":"top","labels":false,"values":[0,2,4,6,8,10],"title":"TRIGGER_lungs","titleX":137,"titleY":-7,"titleBaseline":"alphabetic","titleAlign":"center"}},"y":{"field":"v","type":"quantitative","axis":{"orient":"right","labels":false,"values":[-5e-18,0,5e-18,1e-17,1.5e-17,2e-17,2.5e-17],"title":null}}}}],
"resolve":{"axis":{"x":"independent","y":"independent"}}},

{"width":274,"height":134,"data":{"values":[{"t":0,"v":1400},{"t":7.5,"v":1400},{"t":8,"v":1398},{"t":8.5,"v":1385},{"t":8.8,"v":1365},{"t":9.1,"v":1320},{"t":9.4,"v":1250},{"t":9.6,"v":1180},{"t":9.8,"v":1090},{"t":9.9,"v":1010},{"t":10,"v":880}]},
"layer":[{"mark":"line","encoding":{"x":{"field":"t","type":"quantitative","scale":{"domain":[0,10],"nice":false},"axis":{"values":[0,2,4,6,8,10],"format":"d","title":null}},"y":{"field":"v","type":"quantitative","scale":{"domain":[800,1400],"nice":false,"zero":false},"axis":{"values":[800,900,1000,1100,1200,1300,1400],"format":"d","title":null}}}},
{"mark":{"type":"line","opacity":0},"encoding":{"x":{"field":"t","type":"quantitative","axis":{"orient":"top","labels":false,"values":[0,2,4,6,8,10],"title":"FII_liver","titleX":137,"titleY":-7,"titleBaseline":"alphabetic","titleAlign":"center"}},"y":{"field":"v","type":"quantitative","axis":{"orient":"right","labels":false,"values":[800,900,1000,1100,1200,1300,1400],"title":null}}}}],
"resolve":{"axis":{"x":"independent","y":"independent"}}},

{"width":274,"height":134,"data":{"values":[{"t":0,"v":0},{"t":7.5,"v":0},{"t":8,"v":5},{"t":8.5,"v":20},{"t":9,"v":55},{"t":9.3,"v":95},{"t":9.5,"v":135},{"t":9.7,"v":200},{"t":9.85,"v":300},{"t":10,"v":515}]},
"layer":[{"mark":"line","encoding":{"x":{"field":"t","type":"quantitative","scale":{"domain":[0,10],"nice":false},"axis":{"values":[0,2,4,6,8,10],"format":"d","title":null}},"y":{"field":"v","type":"quantitative","scale":{"domain":[0,600],"nice":false,"zero":false},"axis":{"values":[0,100,200,300,400,500,600],"format":"d","title":null}}}},
{"mark":{"type":"line","opacity":0},"encoding":{"x":{"field":"t","type":"quantitative","axis":{"orient":"top","labels":false,"values":[0,2,4,6,8,10],"title":"FIIa_liver","titleX":137,"titleY":-7,"titleBaseline":"alphabetic","titleAlign":"center"}},"y":{"field":"v","type":"quantitative","axis":{"orient":"right","labels":false,"values":[0,100,200,300,400,500,600],"title":null}}}}],
"resolve":{"axis":{"x":"independent","y":"independent"}}},

{"width":274,"height":134,"data":{"values":[{"t":0,"v":60},{"t":5,"v":60},{"t":6,"v":59.999998},{"t":6.5,"v":59.99999},{"t":7,"v":59.999978},{"t":7.5,"v":59.99996},{"t":8,"v":59.99993},{"t":8.5,"v":59.999865},{"t":9,"v":59.99975},{"t":9.5,"v":59.99962},{"t":10,"v":59.99949}]},
"layer":[{"mark":"line","encoding":{"x":{"field":"t","type":"quantitative","scale":{"domain":[0,10],"nice":false},"axis":{"values":[0,2,4,6,8,10],"format":"d","title":null}},"y":{"field":"v","type":"quantitative","scale":{"domain":[59.9994,60.0001],"nice":false,"zero":false},"axis":{"values":[59.9994,59.9995,59.9996,59.9997,59.9998,59.9999,60,60.0001],"format":".4f","title":null}}}},
{"mark":{"type":"line","opacity":0},"encoding":{"x":{"field":"t","type":"quantitative","axis":{"orient":"top","labels":false,"values":[0,2,4,6,8,10],"title":"PC_liver","titleX":137,"titleY":-7,"titleBaseline":"alphabetic","titleAlign":"center"}},"y":{"field":"v","type":"quantitative","axis":{"orient":"right","labels":false,"values":[59.9994,59.9995,59.9996,59.9997,59.9998,59.9999,60,60.0001],"title":null}}}}],
"resolve":{"axis":{"x":"independent","y":"independent"}}},

{"width":274,"height":134,"data":{"values":[{"t":0,"v":0},{"t":5,"v":0},{"t":6,"v":0.000003},{"t":6.5,"v":0.000008},{"t":7,"v":0.000018},{"t":7.5,"v":0.00004},{"t":8,"v":0.000082},{"t":8.5,"v":0.000145},{"t":8.8,"v":0.00021},{"t":9,"v":0.00025},{"t":9.5,"v":0.00036},{"t":10,"v":0.000513}]},
"layer":[{"mark":"line","encoding":{"x":{"field":"t","type":"quantitative","scale":{"domain":[0,10],"nice":false},"axis":{"values":[0,2,4,6,8,10],"format":"d","title":null}},"y":{"field":"v","type":"quantitative","scale":{"domain":[0,0.0006],"nice":false,"zero":false},"axis":{"values":[0,0.0001,0.0002,0.0003,0.0004,0.0005,0.0006],"format":".4f","title":null}}}},
{"mark":{"type":"line","opacity":0},"encoding":{"x":{"field":"t","type":"quantitative","axis":{"orient":"top","labels":false,"values":[0,2,4,6,8,10],"title":"APC_liver","titleX":137,"titleY":-7,"titleBaseline":"alphabetic","titleAlign":"center"}},"y":{"field":"v","type":"quantitative","axis":{"orient":"right","labels":false,"values":[0,0.0001,0.0002,0.0003,0.0004,0.0005,0.0006],"title":null}}}}],
"resolve":{"axis":{"x":"independent","y":"independent"}}},

{"width":274,"height":134,"data":{"values":[{"t":0,"v":0},{"t":1,"v":1.8},{"t":2,"v":3.5},{"t":2.6,"v":6},{"t":3,"v":9},{"t":4,"v":18},{"t":5,"v":26.5},{"t":6,"v":34.5},{"t":7,"v":42},{"t":8,"v":50.5},{"t":8.5,"v":55},{"t":9,"v":60},{"t":9.5,"v":63},{"t":9.8,"v":63.5},{"t":10,"v":62}]},
"layer":[{"mark":"line","encoding":{"x":{"field":"t","type":"quantitative","scale":{"domain":[0,10],"nice":false},"axis":{"values":[0,2,4,6,8,10],"format":"d","title":null}},"y":{"field":"v","type":"quantitative","scale":{"domain":[0,70],"nice":false,"zero":false},"axis":{"values":[0,10,20,30,40,50,60,70],"format":"d","title":null}}}},
{"mark":{"type":"line","opacity":0},"encoding":{"x":{"field":"t","type":"quantitative","axis":{"orient":"top","labels":false,"values":[0,2,4,6,8,10],"title":"ATIII_liver","titleX":137,"titleY":-7,"titleBaseline":"alphabetic","titleAlign":"center"}},"y":{"field":"v","type":"quantitative","axis":{"orient":"right","labels":false,"values":[0,10,20,30,40,50,60,70],"title":null}}}}],
"resolve":{"axis":{"x":"independent","y":"independent"}}},

{"width":274,"height":134,"data":{"values":[{"t":0,"v":0},{"t":0.51,"v":0},{"t":0.6,"v":5.6e-20},{"t":0.68,"v":3.5e-20},{"t":0.71,"v":1.73e-19},{"t":0.86,"v":1.5e-19},{"t":1.01,"v":2.52e-19},{"t":1.06,"v":2.0e-19},{"t":1.09,"v":3.79e-19},{"t":1.21,"v":4.5e-19},{"t":1.47,"v":6.4e-19},{"t":1.69,"v":5.11e-19},{"t":1.84,"v":4.67e-19},{"t":1.99,"v":4.94e-19},{"t":2.3,"v":5.47e-19},{"t":2.42,"v":4.5e-19},{"t":2.52,"v":3.6e-19},{"t":2.64,"v":3.17e-19},{"t":10,"v":3.23e-19}]},
"layer":[{"mark":"line","encoding":{"x":{"field":"t","type":"quantitative","scale":{"domain":[0,10],"nice":false},"axis":{"values":[0,2,4,6,8,10],"format":"d","title":null}},"y":{"field":"v","type":"quantitative","scale":{"domain":[0,7e-19],"nice":false,"zero":false},"axis":{"values":[0,1e-19,2e-19,3e-19,4e-19,5e-19,6e-19,7e-19],"labelExpr":"format(datum.value*1e19,'.0f')","title":"1e−19","titleAngle":0,"titleAlign":"left","titleBaseline":"alphabetic","titleX":0,"titleY":-5,"titleFontSize":16.5}}}},
{"mark":{"type":"line","opacity":0},"encoding":{"x":{"field":"t","type":"quantitative","axis":{"orient":"top","labels":false,"values":[0,2,4,6,8,10],"title":"TM_liver","titleX":137,"titleY":-7,"titleBaseline":"alphabetic","titleAlign":"center"}},"y":{"field":"v","type":"quantitative","axis":{"orient":"right","labels":false,"values":[0,1e-19,2e-19,3e-19,4e-19,5e-19,6e-19,7e-19],"title":null}}}}],
"resolve":{"axis":{"x":"independent","y":"independent"}}},

{"width":274,"height":134,"data":{"values":[{"t":0,"v":0},{"t":0.5,"v":0},{"t":0.64,"v":5.6e-20},{"t":0.71,"v":1.39e-19},{"t":0.83,"v":1.76e-19},{"t":0.91,"v":1.74e-19},{"t":0.97,"v":9.1e-20},{"t":0.98,"v":2.5e-19},{"t":1.09,"v":2.37e-19},{"t":1.2,"v":1.79e-19},{"t":1.32,"v":1.57e-19},{"t":1.39,"v":1.0e-19},{"t":1.47,"v":6.9e-20},{"t":1.59,"v":7e-21},{"t":1.62,"v":1.08e-19},{"t":1.7,"v":5.1e-20},{"t":1.85,"v":1.04e-19},{"t":2.0,"v":2.32e-19},{"t":2.12,"v":2.23e-19},{"t":2.3,"v":2.58e-19},{"t":2.45,"v":2.94e-19},{"t":2.6,"v":2.91e-19},{"t":10,"v":2.91e-19}]},
"layer":[{"mark":"line","encoding":{"x":{"field":"t","type":"quantitative","scale":{"domain":[0,10],"nice":false},"axis":{"values":[0,2,4,6,8,10],"format":"d","title":null}},"y":{"field":"v","type":"quantitative","scale":{"domain":[-5e-20,3e-19],"nice":false,"zero":false},"axis":{"values":[-5e-20,0,5e-20,1e-19,1.5e-19,2e-19,2.5e-19,3e-19],"labelExpr":"format(datum.value*1e19,'.1f')","title":"1e−19","titleAngle":0,"titleAlign":"left","titleBaseline":"alphabetic","titleX":0,"titleY":-5,"titleFontSize":16.5}}}},
{"mark":{"type":"line","opacity":0},"encoding":{"x":{"field":"t","type":"quantitative","axis":{"orient":"top","labels":false,"values":[0,2,4,6,8,10],"title":"TRIGGER_liver","titleX":137,"titleY":-7,"titleBaseline":"alphabetic","titleAlign":"center"}},"y":{"field":"v","type":"quantitative","axis":{"orient":"right","labels":false,"values":[-5e-20,0,5e-20,1e-19,1.5e-19,2e-19,2.5e-19,3e-19],"title":null}}}}],
"resolve":{"axis":{"x":"independent","y":"independent"}}},

{"width":274,"height":134,"data":{"values":[{"t":0,"v":1400},{"t":7.5,"v":1400},{"t":8,"v":1399},{"t":8.5,"v":1385},{"t":8.8,"v":1370},{"t":9.1,"v":1335},{"t":9.4,"v":1290},{"t":9.6,"v":1245},{"t":9.8,"v":1175},{"t":9.9,"v":1120},{"t":10,"v":1038}]},
"layer":[{"mark":"line","encoding":{"x":{"field":"t","type":"quantitative","scale":{"domain":[0,10],"nice":false},"axis":{"values":[0,2,4,6,8,10],"format":"d","title":null}},"y":{"field":"v","type":"quantitative","scale":{"domain":[1000,1400],"nice":false,"zero":false},"axis":{"values":[1000,1050,1100,1150,1200,1250,1300,1350,1400],"format":"d","title":null}}}},
{"mark":{"type":"line","opacity":0},"encoding":{"x":{"field":"t","type":"quantitative","axis":{"orient":"top","labels":false,"values":[0,2,4,6,8,10],"title":"FII_bulk","titleX":137,"titleY":-7,"titleBaseline":"alphabetic","titleAlign":"center"}},"y":{"field":"v","type":"quantitative","axis":{"orient":"right","labels":false,"values":[1000,1050,1100,1150,1200,1250,1300,1350,1400],"title":null}}}}],
"resolve":{"axis":{"x":"independent","y":"independent"}}},

{"width":274,"height":134,"data":{"values":[{"t":0,"v":0},{"t":7.5,"v":0},{"t":8,"v":3},{"t":8.5,"v":13},{"t":9,"v":38},{"t":9.3,"v":65},{"t":9.5,"v":95},{"t":9.7,"v":145},{"t":9.85,"v":210},{"t":10,"v":362}]},
"layer":[{"mark":"line","encoding":{"x":{"field":"t","type":"quantitative","scale":{"domain":[0,10],"nice":false},"axis":{"values":[0,2,4,6,8,10],"format":"d","title":null}},"y":{"field":"v","type":"quantitative","scale":{"domain":[0,400],"nice":false,"zero":false},"axis":{"values":[0,50,100,150,200,250,300,350,400],"format":"d","title":null}}}},
{"mark":{"type":"line","opacity":0},"encoding":{"x":{"field":"t","type":"quantitative","axis":{"orient":"top","labels":false,"values":[0,2,4,6,8,10],"title":"FIIa_bulk","titleX":137,"titleY":-7,"titleBaseline":"alphabetic","titleAlign":"center"}},"y":{"field":"v","type":"quantitative","axis":{"orient":"right","labels":false,"values":[0,50,100,150,200,250,300,350,400],"title":null}}}}],
"resolve":{"axis":{"x":"independent","y":"independent"}}},

{"width":274,"height":134,"data":{"values":[{"t":0,"v":60},{"t":5,"v":60},{"t":6,"v":59.999998},{"t":6.5,"v":59.999994},{"t":7,"v":59.999986},{"t":7.5,"v":59.99997},{"t":8,"v":59.999948},{"t":8.5,"v":59.99991},{"t":9,"v":59.999845},{"t":9.5,"v":59.999765},{"t":10,"v":59.99967}]},
"layer":[{"mark":"line","encoding":{"x":{"field":"t","type":"quantitative","scale":{"domain":[0,10],"nice":false},"axis":{"values":[0,2,4,6,8,10],"format":"d","title":null}},"y":{"field":"v","type":"quantitative","scale":{"domain":[59.99965,60.00005],"nice":false,"zero":false},"axis":{"values":[59.99965,59.9997,59.99975,59.9998,59.99985,59.9999,59.99995,60,60.00005],"format":".5f","title":null}}}},
{"mark":{"type":"line","opacity":0},"encoding":{"x":{"field":"t","type":"quantitative","axis":{"orient":"top","labels":false,"values":[0,2,4,6,8,10],"title":"PC_bulk","titleX":137,"titleY":-7,"titleBaseline":"alphabetic","titleAlign":"center"}},"y":{"field":"v","type":"quantitative","axis":{"orient":"right","labels":false,"values":[59.99965,59.9997,59.99975,59.9998,59.99985,59.9999,59.99995,60,60.00005],"title":null}}}}],
"resolve":{"axis":{"x":"independent","y":"independent"}}},

{"width":274,"height":134,"data":{"values":[{"t":0,"v":0},{"t":5,"v":0},{"t":6,"v":0.000002},{"t":6.5,"v":0.000005},{"t":7,"v":0.000011},{"t":7.5,"v":0.000025},{"t":8,"v":0.000052},{"t":8.5,"v":0.00009},{"t":8.8,"v":0.000135},{"t":9,"v":0.00016},{"t":9.5,"v":0.000235},{"t":10,"v":0.000332}]},
"layer":[{"mark":"line","encoding":{"x":{"field":"t","type":"quantitative","scale":{"domain":[0,10],"nice":false},"axis":{"values":[0,2,4,6,8,10],"format":"d","title":null}},"y":{"field":"v","type":"quantitative","scale":{"domain":[0,0.00035],"nice":false,"zero":false},"axis":{"values":[0,0.00005,0.0001,0.00015,0.0002,0.00025,0.0003,0.00035],"format":".5f","title":null}}}},
{"mark":{"type":"line","opacity":0},"encoding":{"x":{"field":"t","type":"quantitative","axis":{"orient":"top","labels":false,"values":[0,2,4,6,8,10],"title":"APC_bulk","titleX":137,"titleY":-7,"titleBaseline":"alphabetic","titleAlign":"center"}},"y":{"field":"v","type":"quantitative","axis":{"orient":"right","labels":false,"values":[0,0.00005,0.0001,0.00015,0.0002,0.00025,0.0003,0.00035],"title":null}}}}],
"resolve":{"axis":{"x":"independent","y":"independent"}}},

{"width":274,"height":134,"data":{"values":[{"t":0,"v":0},{"t":1,"v":1.1},{"t":2,"v":2.1},{"t":2.6,"v":3.6},{"t":3,"v":5.8},{"t":4,"v":11.5},{"t":5,"v":16.8},{"t":6,"v":21.8},{"t":7,"v":27},{"t":8,"v":32.3},{"t":8.5,"v":35.2},{"t":9,"v":38.2},{"t":9.5,"v":40.3},{"t":9.8,"v":41.4},{"t":10,"v":41.5}]},
"layer":[{"mark":"line","encoding":{"x":{"field":"t","type":"quantitative","scale":{"domain":[0,10],"nice":false},"axis":{"values":[0,2,4,6,8,10],"format":"d","title":null}},"y":{"field":"v","type":"quantitative","scale":{"domain":[0,45],"nice":false,"zero":false},"axis":{"values":[0,5,10,15,20,25,30,35,40,45],"format":"d","title":null}}}},
{"mark":{"type":"line","opacity":0},"encoding":{"x":{"field":"t","type":"quantitative","axis":{"orient":"top","labels":false,"values":[0,2,4,6,8,10],"title":"ATIII_bulk","titleX":137,"titleY":-7,"titleBaseline":"alphabetic","titleAlign":"center"}},"y":{"field":"v","type":"quantitative","axis":{"orient":"right","labels":false,"values":[0,5,10,15,20,25,30,35,40,45],"title":null}}}}],
"resolve":{"axis":{"x":"independent","y":"independent"}}},

{"width":274,"height":134,"data":{"values":[{"t":0,"v":0},{"t":0.51,"v":0},{"t":0.6,"v":4e-20},{"t":0.68,"v":5.9e-20},{"t":0.86,"v":5.9e-20},{"t":0.94,"v":1e-20},{"t":0.98,"v":1.46e-19},{"t":1.09,"v":1.19e-19},{"t":1.21,"v":1.49e-19},{"t":1.31,"v":1.98e-19},{"t":1.34,"v":1.07e-19},{"t":1.36,"v":4.09e-19},{"t":1.47,"v":2.9e-19},{"t":1.62,"v":3.3e-19},{"t":1.77,"v":2.55e-19},{"t":1.92,"v":2.32e-19},{"t":2.07,"v":1.57e-19},{"t":2.22,"v":1.31e-19},{"t":2.37,"v":1.72e-19},{"t":2.6,"v":2.13e-19},{"t":10,"v":2.13e-19}]},
"layer":[{"mark":"line","encoding":{"x":{"field":"t","type":"quantitative","scale":{"domain":[0,10],"nice":false},"axis":{"values":[0,2,4,6,8,10],"format":"d","title":null}},"y":{"field":"v","type":"quantitative","scale":{"domain":[-1e-19,5e-19],"nice":false,"zero":false},"axis":{"values":[-1e-19,0,1e-19,2e-19,3e-19,4e-19,5e-19],"labelExpr":"format(datum.value*1e19,'.0f')","title":"1e−19","titleAngle":0,"titleAlign":"left","titleBaseline":"alphabetic","titleX":0,"titleY":-5,"titleFontSize":16.5}}}},
{"mark":{"type":"line","opacity":0},"encoding":{"x":{"field":"t","type":"quantitative","axis":{"orient":"top","labels":false,"values":[0,2,4,6,8,10],"title":"TM_bulk","titleX":137,"titleY":-7,"titleBaseline":"alphabetic","titleAlign":"center"}},"y":{"field":"v","type":"quantitative","axis":{"orient":"right","labels":false,"values":[-1e-19,0,1e-19,2e-19,3e-19,4e-19,5e-19],"title":null}}}}],
"resolve":{"axis":{"x":"independent","y":"independent"}}},

{"width":274,"height":134,"data":{"values":[{"t":0,"v":0},{"t":0.86,"v":0},{"t":1.02,"v":1.1e-19},{"t":1.09,"v":2.4e-19},{"t":1.24,"v":2.9e-19},{"t":1.39,"v":4.1e-19},{"t":1.55,"v":5.3e-19},{"t":1.7,"v":7.2e-19},{"t":1.8,"v":8.2e-19},{"t":2.0,"v":8.7e-19},{"t":2.15,"v":8.4e-19},{"t":2.35,"v":7.8e-19},{"t":2.5,"v":5.9e-19},{"t":2.65,"v":4.95e-19},{"t":10,"v":4.95e-19}]},
"layer":[{"mark":"line","encoding":{"x":{"field":"t","type":"quantitative","scale":{"domain":[0,10],"nice":false},"axis":{"values":[0,2,4,6,8,10],"format":"d","title":null}},"y":{"field":"v","type":"quantitative","scale":{"domain":[-1e-19,9e-19],"nice":false,"zero":false},"axis":{"values":[0,2e-19,4e-19,6e-19,8e-19],"labelExpr":"format(datum.value*1e18,'.1f')","title":"1e−18","titleAngle":0,"titleAlign":"left","titleBaseline":"alphabetic","titleX":0,"titleY":-5,"titleFontSize":16.5}}}},
{"mark":{"type":"line","opacity":0},"encoding":{"x":{"field":"t","type":"quantitative","axis":{"orient":"top","labels":false,"values":[0,2,4,6,8,10],"title":"TRIGGER_bulk","titleX":137,"titleY":-7,"titleBaseline":"alphabetic","titleAlign":"center"}},"y":{"field":"v","type":"quantitative","axis":{"orient":"right","labels":false,"values":[0,2e-19,4e-19,6e-19,8e-19],"title":null}}}}],
"resolve":{"axis":{"x":"independent","y":"independent"}}}
],
"config":{
"view":{"stroke":"black","strokeWidth":1.4},
"font":"DejaVu Sans",
"line":{"color":"black","strokeWidth":3,"interpolate":"monotone"},
"axis":{"grid":false,"domain":false,"ticks":true,"tickColor":"black","tickWidth":1,"tickSize":-4,"labelFont":"DejaVu Sans","labelFontSize":9,"labelColor":"black","labelPadding":4,"labelFlush":false,"labelOverlap":false,"labelBound":false,"titleFont":"DejaVu Sans","titleFontWeight":"normal","titleColor":"black","titleFontSize":20,"titlePadding":0}
}
}
